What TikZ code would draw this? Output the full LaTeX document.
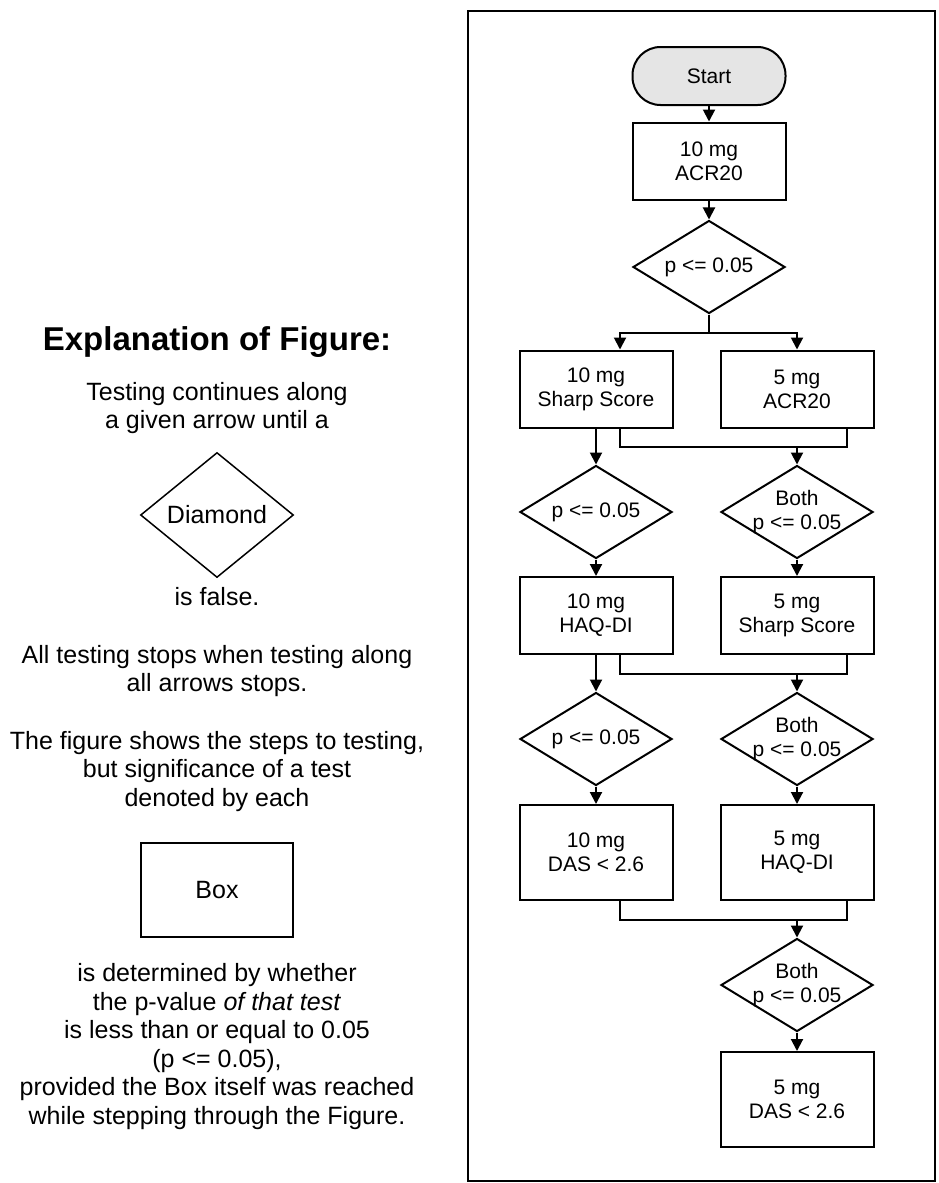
\documentclass[tikz,border=0pt]{standalone}
\usepackage{fontspec}
\setmainfont{Liberation Sans}
\usetikzlibrary{shapes.geometric,arrows.meta}
\definecolor{startgray}{gray}{0.9}

\begin{document}
\begin{tikzpicture}[x=1pt,y=-1pt]
% Chart style
\tikzset{
    chart/.style={line width=2pt},
    startbox/.style={draw, chart, fill=startgray, rounded corners=28pt, minimum width=153pt, minimum height=58pt, font=\fontsize{21}{24}\selectfont},
    testbox/.style={draw, chart, minimum width=153pt, minimum height=77pt, align=center, font=\fontsize{21}{24}\selectfont},
    pcheck/.style={draw, chart, diamond, shape aspect=1.6, inner sep=0pt, minimum width=152pt, minimum height=93pt, align=center, font=\fontsize{21}{24}\selectfont},
    note/.style={align=center, font=\fontsize{25}{28.5}\selectfont},
    arr/.style={chart, -{Triangle[length=12pt,width=12pt]}}
}
\useasboundingbox (0,0) rectangle (939,1183);

% Frame
\draw[line width=1.8pt] (468,11) rectangle (935,1181);

% Nodes
\node[startbox] (start) at (709,76) {Start};
\node[testbox] (acr10) at (709,161) {10 mg\\ACR20};
\node[pcheck] (d1) at (709,267) {\makebox[0pt]{p <= 0.05}};
\node[testbox] (sharp10) at (596,389) {10 mg\\Sharp Score};
\node[testbox] (acr5) at (797,389) {5 mg\\ACR20};
\node[pcheck] (dl1) at (596,512) {\makebox[0pt]{p <= 0.05}};
\node[pcheck] (dr1) at (797,512) {\makebox[0pt]{Both}\\\makebox[0pt]{p <= 0.05}};
\node[testbox] (haq10) at (596,615.5) {10 mg\\HAQ-DI};
\node[testbox] (sharp5) at (797,615.5) {5 mg\\Sharp Score};
\node[pcheck] (dl2) at (596,739) {\makebox[0pt]{p <= 0.05}};
\node[pcheck] (dr2) at (797,739) {\makebox[0pt]{Both}\\\makebox[0pt]{p <= 0.05}};
\node[testbox, minimum height=95pt] (das10) at (596,852.5) {10 mg\\DAS < 2.6};
\node[testbox, minimum height=95pt] (haq5) at (797,852.5) {5 mg\\HAQ-DI};
\node[pcheck] (dr3) at (797,985) {\makebox[0pt]{Both}\\\makebox[0pt]{p <= 0.05}};
\node[testbox, minimum height=95pt] (das5) at (797,1099.5) {5 mg\\DAS < 2.6};

% Connections
\draw[arr] (start) -- (acr10);
\draw[arr] (acr10) -- (d1);
\draw[arr] (d1.south) -- ++(0,18) -| ([xshift=24pt]sharp10.north);
\draw[arr] (d1.south) -- ++(0,18) -| (acr5.north);

\draw[arr] (sharp10) -- (dl1);
\draw[chart] ([xshift=24pt]sharp10.south) -- ++(0,18) coordinate (j1) -| ([xshift=50pt]acr5.south);
\draw[arr] (j1 -| dr1.north) -- (dr1.north);
\draw[arr] (dl1) -- (haq10);
\draw[arr] (dr1) -- (sharp5);

\draw[arr] (haq10) -- (dl2);
\draw[chart] ([xshift=24pt]haq10.south) -- ++(0,19) coordinate (j2) -| ([xshift=50pt]sharp5.south);
\draw[arr] (j2 -| dr2.north) -- (dr2.north);
\draw[arr] (dl2) -- (das10);
\draw[arr] (dr2) -- (haq5);

\draw[chart] ([xshift=24pt]das10.south) -- ++(0,19) coordinate (j3) -| ([xshift=50pt]haq5.south);
\draw[arr] (j3 -| dr3.north) -- (dr3.north);
\draw[arr] (dr3) -- (das5);

% Explanation
\node[font=\fontsize{33}{36}\selectfont\bfseries] (head) at (217,342) {Explanation of Figure:};
\node[note] (txt1) at (217,408) {Testing continues along\\a given arrow until a};
\node[draw, line width=1.5pt, diamond, shape aspect=1.22, inner sep=0pt, minimum width=153pt, minimum height=125pt, font=\fontsize{25}{28.5}\selectfont] (legdia) at (217,515) {Diamond};
\node[note] (txt2) at (217,597) {is false.};
\node[note] (txt3) at (217,671) {All testing stops when testing along\\all arrows stops.};
\node[note] (txt4) at (217,771.5) {The figure shows the steps to testing,\\but significance of a test\\denoted by each};
\node[draw, line width=1.5pt, minimum width=152pt, minimum height=94pt, font=\fontsize{25}{28.5}\selectfont] (legbox) at (217,890) {Box};
\node[note] (txt5) at (217,1046.5) {is determined by whether\\the p-value \textit{of that test}\\is less than or equal to 0.05\\(p <= 0.05),\\provided the Box itself was reached\\while stepping through the Figure.};
\end{tikzpicture}
\end{document}
